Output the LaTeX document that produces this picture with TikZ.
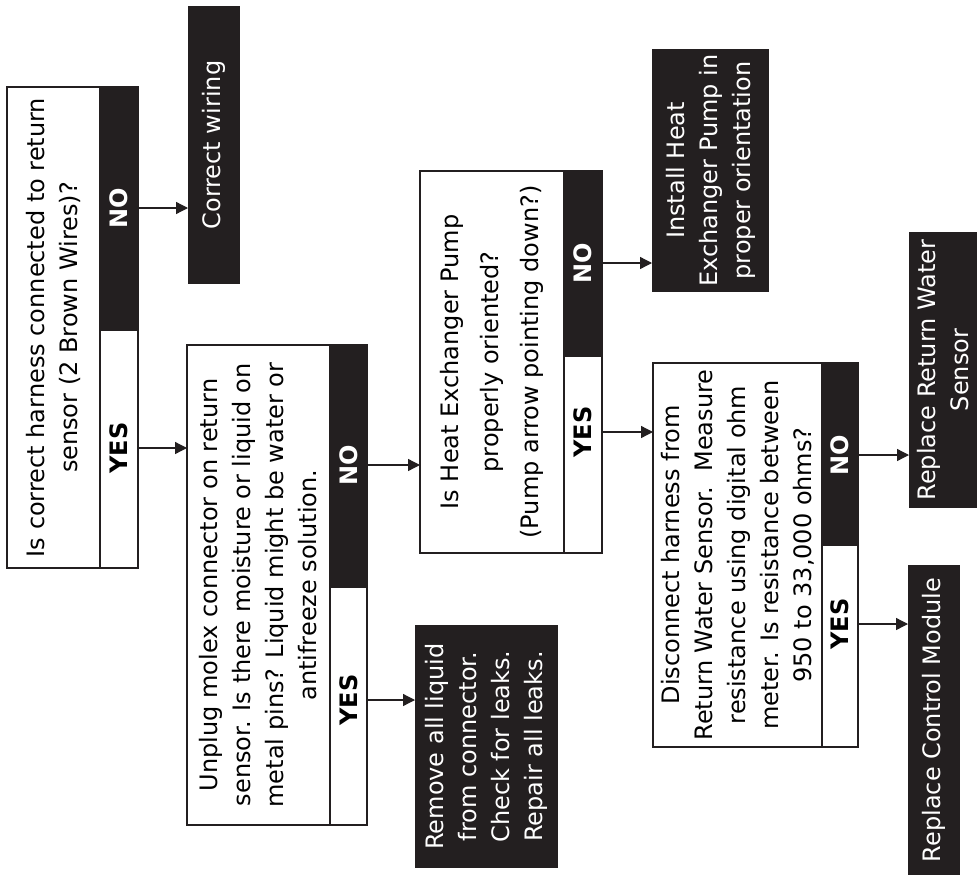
\documentclass[tikz,border=0pt]{standalone}
\usepackage{fontspec}
\setmainfont{DejaVu Sans}
\usetikzlibrary{arrows.meta}
\definecolor{ink}{HTML}{231F20}
\begin{document}
\begin{tikzpicture}[x=1pt,y=-1pt,
  body/.style={draw=ink, line width=1.3pt, fill=white, inner sep=0pt, outer sep=0pt},
  strip/.style={draw=ink, line width=1.3pt, fill=ink, inner sep=0pt, outer sep=0pt},
  act/.style={fill=ink, inner sep=0pt, outer sep=0pt},
  txt/.style={rotate=90, align=center, inner sep=0pt, font=\fontsize{24}{33}\selectfont},
  lbl/.style={rotate=90, inner sep=0pt, font=\bfseries\fontsize{24}{28}\selectfont},
  arr/.style={draw=ink, line width=1.3pt, -{Triangle[length=12pt,width=12pt]}}]
\useasboundingbox (0,0) rectangle (977,875);
\fill[white] (0,0) rectangle (977,875);

% ---- Question 1
\node[body, minimum width=93pt, minimum height=481pt] (q1) at (53.5,327.5) {};
\node[txt] (q1t) at (q1) {Is correct harness connected to return\\sensor (2 Brown Wires)?};
\node[strip, minimum width=38pt, minimum height=243pt] (q1no) at (119,208.5) {};
\node[body, minimum width=38pt, minimum height=238pt] (q1yes) at (119,449) {};
\node[lbl, text=white] (q1n) at (119,208) {NO};
\node[lbl] (q1y) at (119,448) {YES};

% ---- Correct wiring
\node[act, minimum width=52pt, minimum height=278pt] (cw) at (214,145) {};
\node[txt, text=white] (cwt) at (cw) {Correct wiring};

% ---- Question 2
\node[body, minimum width=143pt, minimum height=480pt] (q2) at (258.5,585) {};
\node[txt] (q2t) at (q2) {Unplug molex connector on return\\sensor. Is there moisture or liquid on\\metal pins? Liquid might be water or\\antifreeze solution.};
\node[strip, minimum width=37pt, minimum height=242pt] (q2no) at (348.5,466) {};
\node[body, minimum width=37pt, minimum height=238pt] (q2yes) at (348.5,706) {};
\node[lbl, text=white] (q2n) at (348.5,465) {NO};
\node[lbl] (q2y) at (348.5,700) {YES};

% ---- Remove liquid
\node[act, minimum width=143pt, minimum height=243pt] (rm) at (486.5,746.5) {};
\node[txt, text=white] (rmt) at (rm) {Remove all liquid\\from connector.\\Check for leaks.\\Repair all leaks.};

% ---- Question 3
\node[body, minimum width=144pt, minimum height=382pt] (q3) at (492,362) {};
\node[txt, font=\fontsize{24}{40}\selectfont] (q3t) at (q3) {Is Heat Exchanger Pump\\properly oriented?\\(Pump arrow pointing down?)};
\node[strip, minimum width=38pt, minimum height=185pt] (q3no) at (583,263.5) {};
\node[body, minimum width=38pt, minimum height=197pt] (q3yes) at (583,454.5) {};
\node[lbl, text=white] (q3n) at (583,263) {NO};
\node[lbl] (q3y) at (583,432) {YES};

% ---- Install pump
\node[act, minimum width=117pt, minimum height=243pt] (ih) at (710.5,170.5) {};
\node[txt, text=white] (iht) at (ih) {Install Heat\\Exchanger Pump in\\proper orientation};

% ---- Question 4
\node[body, minimum width=169pt, minimum height=384pt] (q4) at (737.5,555) {};
\node[txt] (q4t) at (q4) {Disconnect harness from\\Return Water Sensor.\ \ Measure\\resistance using digital ohm\\meter. Is resistance between\\950 to 33,000 ohms?};
\node[strip, minimum width=36pt, minimum height=182pt] (q4no) at (840,454) {};
\node[body, minimum width=36pt, minimum height=202pt] (q4yes) at (840,646) {};
\node[lbl, text=white] (q4n) at (840,455) {NO};
\node[lbl] (q4y) at (840,624) {YES};

% ---- Replace return water sensor
\node[act, minimum width=68pt, minimum height=276pt] (rr) at (943,370) {};
\node[txt, text=white] (rrt) at (rr) {Replace Return Water\\Sensor};

% ---- Replace control module
\node[act, minimum width=52pt, minimum height=310pt] (rc) at (934,720) {};
\node[txt, text=white] (rct) at (rc) {Replace Control Module};

% ---- Connectors
\draw[arr] (q1n -| q1no.east) -- (q1n -| cw.west);
\draw[arr] (q1y -| q1yes.east) -- (q1y -| q2.west);
\draw[arr] (q2n -| q2no.east) -- (q2n -| q3.west);
\draw[arr] (q2y -| q2yes.east) -- (q2y -| rm.west);
\draw[arr] (q3n -| q3no.east) -- (q3n -| ih.west);
\draw[arr] (q3y -| q3yes.east) -- (q3y -| q4.west);
\draw[arr] (q4n -| q4no.east) -- (q4n -| rr.west);
\draw[arr] (q4y -| q4yes.east) -- (q4y -| rc.west);
\end{tikzpicture}
\end{document}
